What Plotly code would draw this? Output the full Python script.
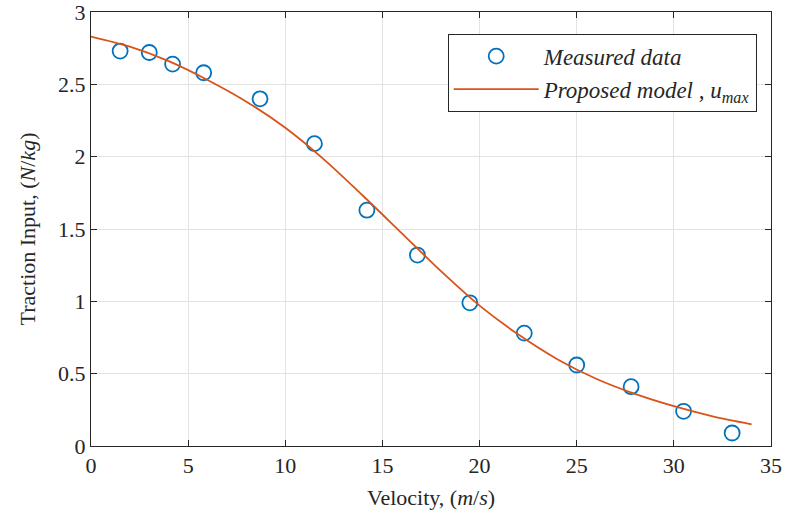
import plotly.graph_objects as go

# Measured data
vel_meas = [1.5, 3.0, 4.2, 5.8, 8.7, 11.5, 14.2, 16.8, 19.5, 22.3, 25.0, 27.8, 30.5, 33.0]
trac_meas = [2.73, 2.72, 2.64, 2.58, 2.40, 2.09, 1.63, 1.32, 0.99, 0.78, 0.56, 0.41, 0.24, 0.09]

# Proposed model curve
vel_model = [0, 2, 4, 6, 8, 10, 12, 14, 16, 18, 20, 22, 24, 26, 28, 30, 32, 34]
trac_model = [2.83, 2.76, 2.66, 2.53, 2.38, 2.20, 1.98, 1.73, 1.47, 1.21, 0.97, 0.77, 0.60, 0.465, 0.36, 0.275, 0.205, 0.15]

x_ticks = [0, 5, 10, 15, 20, 25, 30, 35]
y_ticks = [0, 0.5, 1, 1.5, 2, 2.5, 3]
y_tick_text = ["0", "0.5", "1", "1.5", "2", "2.5", "3"]

FONT = "Liberation Serif, DejaVu Serif, serif"

fig = go.Figure()
fig.add_trace(go.Scatter(
    x=vel_meas, y=trac_meas, mode="markers",
    name="<i>Measured data</i>",
    marker=dict(symbol="circle-open", size=15, color="#0072BD", line=dict(width=1.8, color="#0072BD")),
))
fig.add_trace(go.Scatter(
    x=vel_model, y=trac_model, mode="lines",
    name="<i>Proposed model , u<sub>max</sub></i>",
    line=dict(color="#D95319", width=1.8, shape="spline", smoothing=0.8),
))

axis_common = dict(
    showline=True, linecolor="#262626", linewidth=1, mirror="ticks",
    ticks="inside", ticklen=6, tickcolor="#262626",
    showgrid=True, gridcolor="#e3e3e3", gridwidth=1, zeroline=False,
    tickfont=dict(family=FONT, size=22, color="#262626"),
    ticklabeloverflow="allow", automargin=False,
)

fig.update_layout(
    width=785, height=521,
    margin=dict(l=91, r=14, t=12, b=75),
    paper_bgcolor="white", plot_bgcolor="white",
    font=dict(family=FONT, size=20, color="#262626"),
    xaxis=dict(range=[0, 35], tickvals=x_ticks,
               title=dict(text="Velocity, (<i>m</i>/<i>s</i>)", font=dict(family=FONT, size=22, color="#262626"), standoff=12),
               **axis_common),
    yaxis=dict(range=[0, 3], tickvals=y_ticks, ticktext=y_tick_text,
               title=dict(text="Traction Input, (<i>N</i>/<i>kg</i>)", font=dict(family=FONT, size=22, color="#262626"), standoff=16),
               **axis_common),
    legend=dict(x=0.979, y=0.95, xanchor="right", yanchor="top",
                bordercolor="#262626", borderwidth=1, bgcolor="white",
                font=dict(family=FONT, size=23, color="#262626"),
                itemwidth=85, tracegroupgap=0),
    showlegend=True,
)

fig.write_html("out.html")
